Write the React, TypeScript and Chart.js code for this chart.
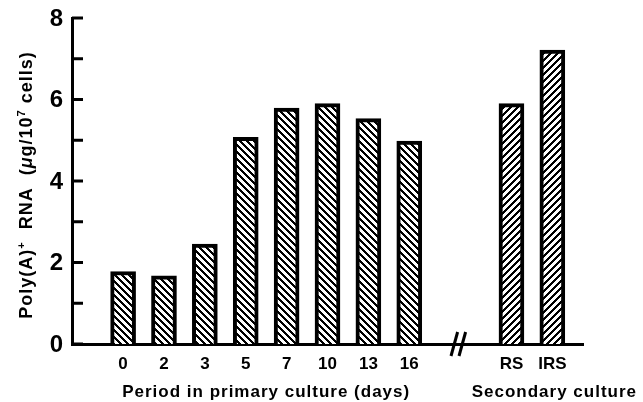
import React, { useEffect, useRef } from 'react';
import { Chart, registerables } from 'chart.js';

Chart.register(...registerables);

// ---- data ----
const primaryCategories = ['0', '2', '3', '5', '7', '10', '13', '16'];
const primaryValues = [1.78, 1.67, 2.45, 5.07, 5.79, 5.9, 5.53, 4.98];
const primaryPositions = [0, 1, 2, 3, 4, 5, 6, 7];

const secondaryCategories = ['RS', 'IRS'];
const secondaryValues = [5.9, 7.21];
const secondaryPositions = [9.5, 10.5];

const yMin = 0;
const yMax = 8;
const yStep = 1;
const yLabelEvery = 2;

const groupTitles = ['Period in primary culture (days)', 'Secondary culture'];
const groupTitlePositions = [3.5, 10.55];
const axisBreakPosition = 8.2;
const xMin = -1.25;
const xMax = 11.25;

const yTitleParts = [
  { text: 'Poly(A)', sup: false, italic: false },
  { text: '+', sup: true, italic: false },
  { text: '  RNA  (', sup: false, italic: false },
  { text: 'μ', sup: false, italic: true },
  { text: 'g/10', sup: false, italic: false },
  { text: '7', sup: true, italic: false },
  { text: ' cells)', sup: false, italic: false },
];

const FONT = '"Liberation Sans", Arial, Helvetica, sans-serif';

const tickPositions = [...primaryPositions, ...secondaryPositions];
const tickLabels = [...primaryCategories, ...secondaryCategories];

function makeHatch(dir: number): CanvasPattern | string {
  const p = 7;
  const w = 3;
  const c = document.createElement('canvas');
  c.width = p;
  c.height = p;
  const g = c.getContext('2d');
  if (!g) return '#888';
  const img = g.createImageData(p, p);
  for (let y = 0; y < p; y++) {
    for (let x = 0; x < p; x++) {
      const k = dir > 0 ? (x + y) % p : (((x - y) % p) + p) % p;
      const v = k < w ? 0 : 255;
      const i = (y * p + x) * 4;
      img.data[i] = v;
      img.data[i + 1] = v;
      img.data[i + 2] = v;
      img.data[i + 3] = 255;
    }
  }
  g.putImageData(img, 0, 0);
  return g.createPattern(c, 'repeat') || '#888';
}

const decorPlugin = {
  id: 'decor',
  afterDraw(chart: any) {
    const { ctx, chartArea, scales } = chart;
    const x = scales.x;
    const y = scales.y;
    ctx.save();
    ctx.strokeStyle = '#000';
    ctx.fillStyle = '#000';
    ctx.lineWidth = 3;
    ctx.lineCap = 'butt';

    // inward y ticks
    y.ticks.forEach((t: any) => {
      const py = y.getPixelForValue(t.value);
      ctx.beginPath();
      ctx.moveTo(chartArea.left, py);
      ctx.lineTo(chartArea.left + 11, py);
      ctx.stroke();
    });

    // axis break marks
    const bx = x.getPixelForValue(axisBreakPosition);
    const by = chartArea.bottom;
    [-4, 4].forEach((off) => {
      ctx.beginPath();
      ctx.moveTo(bx + off - 3.3, by + 12);
      ctx.lineTo(bx + off + 3.3, by - 12);
      ctx.stroke();
    });

    // group titles
    ctx.font = `bold 17px ${FONT}`;
    (ctx as any).letterSpacing = '1px';
    ctx.textAlign = 'center';
    ctx.textBaseline = 'alphabetic';
    groupTitles.forEach((t, i) => {
      ctx.fillText(t, x.getPixelForValue(groupTitlePositions[i]), chartArea.bottom + 53);
    });

    // y title
    const mainFont = `bold 18px ${FONT}`;
    const italicFont = `italic bold 18px ${FONT}`;
    const supFont = `bold 11px ${FONT}`;
    const fontFor = (p: any) => (p.sup ? supFont : p.italic ? italicFont : mainFont);
    ctx.textAlign = 'left';
    let total = 0;
    const widths = yTitleParts.map((p) => {
      ctx.font = fontFor(p);
      const w = ctx.measureText(p.text).width;
      total += w;
      return w;
    });
    ctx.translate(32, (chartArea.top + chartArea.bottom) / 2 + 4);
    ctx.rotate(-Math.PI / 2);
    let cx = -total / 2;
    yTitleParts.forEach((p, i) => {
      ctx.font = fontFor(p);
      ctx.fillText(p.text, cx, p.sup ? -7 : 0);
      cx += widths[i];
    });
    ctx.restore();
  },
};

export default function App() {
  const canvasRef = useRef<HTMLCanvasElement | null>(null);

  useEffect(() => {
    const canvas = canvasRef.current;
    if (!canvas) return;
    const primaryHatch = makeHatch(-1);
    const secondaryHatch = makeHatch(1);

    const chart = new Chart(canvas, {
      type: 'bar',
      data: {
        datasets: [
          {
            data: primaryPositions.map((p, i) => ({ x: p, y: primaryValues[i] })),
            backgroundColor: primaryHatch as any,
            borderColor: '#000',
            borderWidth: 4,
            barThickness: 25,
            grouped: false,
          } as any,
          {
            data: secondaryPositions.map((p, i) => ({ x: p, y: secondaryValues[i] })),
            backgroundColor: secondaryHatch as any,
            borderColor: '#000',
            borderWidth: 4,
            barThickness: 25,
            grouped: false,
          } as any,
        ],
      },
      options: {
        animation: false,
        responsive: false,
        devicePixelRatio: 1,
        layout: { padding: { top: 18, right: 60, bottom: 0, left: 0 } },
        plugins: {
          legend: { display: false },
          tooltip: { enabled: false },
          title: { display: false },
        },
        scales: {
          x: {
            type: 'linear',
            offset: false,
            min: xMin,
            max: xMax,
            grid: { display: false, drawTicks: false, offset: false },
            border: { display: true, width: 3, color: '#000' },
            afterBuildTicks: (s: any) => {
              s.ticks = tickPositions.map((v) => ({ value: v }));
            },
            afterFit: (s: any) => {
              s.height = 58;
              s.paddingLeft = 0;
              s.paddingRight = 0;
            },
            ticks: {
              autoSkip: false,
              maxRotation: 0,
              minRotation: 0,
              padding: 10,
              color: '#000',
              font: { family: FONT, size: 17, weight: 'bold' },
              callback: (_v: any, i: number) => tickLabels[i] ?? '',
            },
          } as any,
          y: {
            min: yMin,
            max: yMax,
            grid: { display: false, drawTicks: false },
            border: { display: true, width: 3, color: '#000' },
            afterFit: (s: any) => {
              s.width = 72;
              s.paddingTop = 0;
              s.paddingBottom = 0;
            },
            ticks: {
              stepSize: yStep,
              padding: 9,
              labelOffset: 1,
              color: '#000',
              font: { family: FONT, size: 24, weight: 'bold' },
              callback: (v: any) => (Number(v) % yLabelEvery === 0 ? String(v) : ''),
            },
          } as any,
        },
      },
      plugins: [decorPlugin],
    });
    return () => chart.destroy();
  }, []);

  return (
    <div style={{ position: 'fixed', left: 0, top: 0, width: 643, height: 402, background: '#fff' }}>
      <canvas ref={canvasRef} width={643} height={402} style={{ display: 'block' }} />
    </div>
  );
}
